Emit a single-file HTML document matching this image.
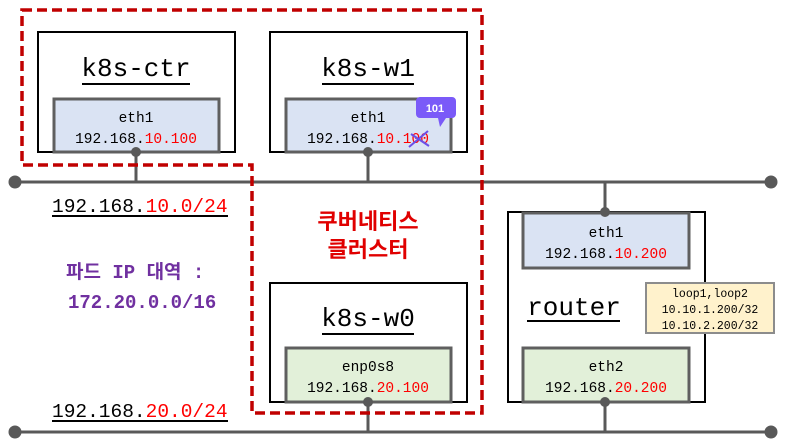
<!DOCTYPE html>
<html><head><meta charset="utf-8"><style>
body{margin:0;width:791px;height:442px;background:#fff;overflow:hidden}
svg{display:block}
.m{font-family:"Liberation Mono","DejaVu Sans Mono",monospace}
</style></head><body>
<svg width="791" height="442" viewBox="0 0 791 442">
<g stroke="#595959" stroke-width="3" fill="#595959">
<line x1="15" y1="182" x2="771" y2="182"/>
<line x1="15" y1="432" x2="771" y2="432"/>
<circle cx="15" cy="182" r="5"/><circle cx="771" cy="182" r="5"/>
<circle cx="15" cy="432" r="5"/><circle cx="771" cy="432" r="5"/>
<line x1="136" y1="152" x2="136" y2="182"/>
<line x1="368" y1="152" x2="368" y2="182"/>
<line x1="605" y1="182" x2="605" y2="212"/>
<line x1="368" y1="402" x2="368" y2="432"/>
<line x1="605" y1="402" x2="605" y2="432"/>
</g>
<g fill="#fff" stroke="#000" stroke-width="2">
<rect x="38" y="32" width="197" height="120"/>
<rect x="270" y="32" width="197" height="120"/>
<rect x="270" y="283" width="197" height="119"/>
<rect x="508" y="212" width="197" height="190"/>
</g>
<g stroke="#5f5f5f" stroke-width="3">
<rect x="54" y="99" width="165" height="53" fill="#dae3f3"/>
<rect x="286" y="99" width="165" height="53" fill="#dae3f3"/>
<rect x="523" y="213" width="166" height="55" fill="#dae3f3"/>
<rect x="286" y="348" width="165" height="54" fill="#e2f0d9"/>
<rect x="523" y="348" width="166" height="54" fill="#e2f0d9"/>
</g>
<rect x="646" y="283" width="128" height="50" fill="#fff2cc" stroke="#8c8c8c" stroke-width="2"/>
<g fill="#595959"><circle cx="136" cy="152" r="5"/><circle cx="368" cy="152" r="5"/><circle cx="605" cy="212" r="5"/><circle cx="605" cy="402" r="5"/><circle cx="368" cy="402" r="5"/></g>
<polygon points="22,10 482,10 482,413 252,413 252,165 22,165" fill="none" stroke="#c00000" stroke-width="3.5" stroke-dasharray="10,5"/>
<g class="m" font-size="26" text-anchor="middle" fill="#000">
<text x="136" y="76">k8s-ctr</text>
<text x="368" y="76">k8s-w1</text>
<text x="368" y="326">k8s-w0</text>
<text x="574" y="315">router</text>
</g>
<g stroke="#000" stroke-width="2">
<line x1="82" y1="84" x2="190" y2="84"/>
<line x1="322" y1="84" x2="414" y2="84"/>
<line x1="322" y1="334" x2="414" y2="334"/>
<line x1="527" y1="321" x2="620" y2="321"/>
</g>
<g class="m" font-size="14.5" text-anchor="middle" fill="#000">
<text x="136" y="122">eth1</text>
<text x="136" y="143">192.168.<tspan fill="#f00">10.100</tspan></text>
<text x="368" y="122">eth1</text>
<text x="368" y="143">192.168.<tspan fill="#f00">10.100</tspan></text>
<text x="606" y="237">eth1</text>
<text x="606" y="258">192.168.<tspan fill="#f00">10.200</tspan></text>
<text x="368" y="371">enp0s8</text>
<text x="368" y="392">192.168.<tspan fill="#f00">20.100</tspan></text>
<text x="606" y="371">eth2</text>
<text x="606" y="392">192.168.<tspan fill="#f00">20.200</tspan></text>
</g>
<g class="m" font-size="11.5" text-anchor="middle" fill="#000">
<text x="710" y="297">loop1,loop2</text>
<text x="710" y="313">10.10.1.200/32</text>
<text x="710" y="329">10.10.2.200/32</text>
</g>
<g stroke="#6b4fe8" stroke-width="2"><line x1="409" y1="147" x2="428" y2="131"/><line x1="411" y1="134" x2="429" y2="146"/></g>
<path d="M420 97h32a4 4 0 0 1 4 4v13a4 4 0 0 1-4 4h-6l-6 9-2-9h-18a4 4 0 0 1-4-4v-13a4 4 0 0 1 4-4z" fill="#7a5af8"/>
<text x="435" y="112" font-family="Liberation Sans,sans-serif" font-size="11" font-weight="bold" fill="#fff" text-anchor="middle">101</text>
<g class="m" font-size="19.5" fill="#000">
<text x="52" y="212">192.168.<tspan fill="#f00">10.0/24</tspan></text>
<text x="52" y="417">192.168.<tspan fill="#f00">20.0/24</tspan></text>
</g>
<g stroke="#000" stroke-width="2"><line x1="52" y1="216" x2="228" y2="216"/><line x1="52" y1="421" x2="228" y2="421"/></g>
<g font-family="Liberation Mono,'Noto Sans CJK KR',monospace" font-size="19" fill="#7030a0" font-weight="bold">
<text x="66" y="278">파드 IP 대역 :</text>
<text x="68" y="308">172.20.0.0/16</text>
</g>
<g font-family="'Noto Sans CJK KR',sans-serif" font-size="22" fill="#e00000" text-anchor="middle" font-weight="bold">
<text x="368" y="229">쿠버네티스</text>
<text x="368" y="257">클러스터</text>
</g>
</svg>
</body></html>
